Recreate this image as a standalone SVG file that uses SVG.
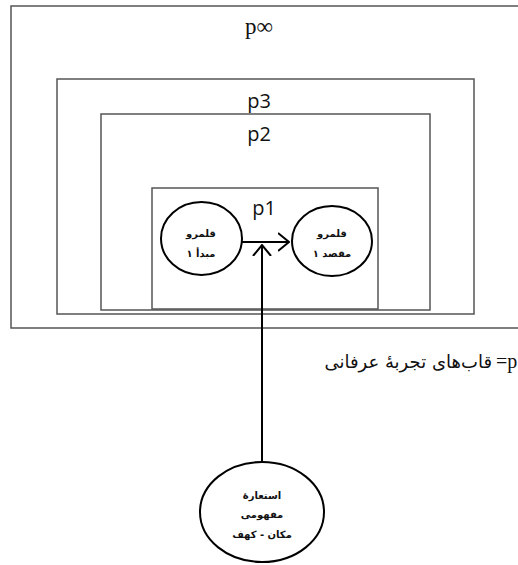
<svg xmlns="http://www.w3.org/2000/svg" width="518" height="565" viewBox="0 0 518 565">
<defs>
<style>
.frame{fill:none;stroke:#555;stroke-width:1.5}
.node{fill:#fff;stroke:#000;stroke-width:2}
.lbl{font-family:"Open Sans","Liberation Sans",sans-serif;font-size:20px;fill:#111;text-anchor:middle}
.ar{font-family:"DejaVu Sans","Noto Sans",sans-serif;font-size:10px;font-weight:bold;fill:#111;text-anchor:middle}
.conn{fill:none;stroke:#000;stroke-width:2}
</style>
<marker id="arr" viewBox="0 0 12 20" refX="11" refY="10" markerWidth="12" markerHeight="20" markerUnits="userSpaceOnUse" orient="auto">
<path d="M0,1 L11,10 L0,19" fill="none" stroke="#000" stroke-width="2"/>
</marker>
</defs>
<rect width="518" height="565" fill="#fff"/>
<g id="p-inf">
<rect class="frame" x="11" y="6" width="520" height="322"/>
<text x="259" y="34" style="font-family:'Liberation Serif',serif;font-size:23px;fill:#111" text-anchor="middle">p∞</text>
</g>
<g id="p3">
<rect class="frame" x="57" y="79" width="417" height="235"/>
<text class="lbl" x="259" y="108">p3</text>
</g>
<g id="p2">
<rect class="frame" x="101" y="114" width="329" height="196"/>
<text class="lbl" x="259" y="141">p2</text>
</g>
<g id="p1">
<rect class="frame" x="152" y="188" width="226" height="121"/>
<text class="lbl" x="264" y="215">p1</text>
</g>
<g id="source">
<ellipse class="node" cx="201.5" cy="238.5" rx="40.5" ry="36.5"/>
<text class="ar" x="201" y="237">قلمرو</text>
<text class="ar" x="201" y="257">مبدأ ۱</text>
</g>
<g id="target">
<ellipse class="node" cx="332" cy="241" rx="40" ry="35"/>
<text class="ar" x="332" y="237">قلمرو</text>
<text class="ar" x="332" y="257">مقصد ۱</text>
</g>
<g id="metaphor">
<ellipse class="node" cx="262" cy="512" rx="62" ry="50"/>
<text class="ar" x="262" y="499">استعارهٔ</text>
<text class="ar" x="262" y="518">مفهومی</text>
<text class="ar" x="262" y="538">مکان - کهف</text>
</g>
<g id="legend">
<text x="492" y="368" style="font-family:'DejaVu Sans',sans-serif;font-size:18px;fill:#111" text-anchor="end">قاب‌های تجربهٔ عرفانی</text>
<text x="496" y="368" style="font-family:'Liberation Serif',serif;font-size:20px;fill:#111">=p</text>
</g>
<g id="connectors">
<line class="conn" x1="242" y1="242" x2="289" y2="242" marker-end="url(#arr)"/>
<line class="conn" x1="262" y1="462" x2="262" y2="245" marker-end="url(#arr)"/>
</g>
</svg>
